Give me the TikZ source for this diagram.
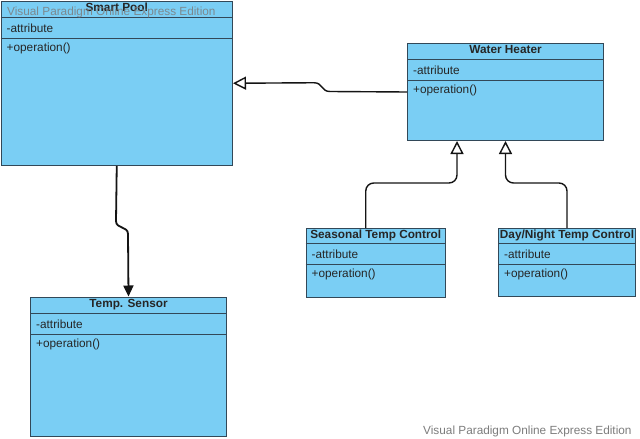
\documentclass[tikz,border=0pt]{standalone}
\usepackage{fontspec}
\setmainfont{Liberation Sans}
\usetikzlibrary{arrows.meta,calc}
\definecolor{classfill}{RGB}{122,206,244}
\definecolor{classline}{RGB}{50,72,88}
\definecolor{wmgray}{RGB}{125,125,125}
\definecolor{conn}{RGB}{20,20,20}
\tikzset{
  classbox/.style={draw=classline, fill=classfill, line width=1pt, rectangle, anchor=north west, inner sep=0pt},
  compsep/.style={draw=classline, line width=1pt},
  titletext/.style={font=\fontsize{11.8}{14}\selectfont\bfseries, text=black!85, inner sep=0pt, anchor=base},
  membertext/.style={font=\fontsize{11.8}{14}\selectfont, text=black!85, inner sep=0pt, anchor=base west},
  wmtext/.style={font=\fontsize{11.8}{14}\selectfont, text=wmgray, inner sep=0pt, anchor=base west},
  genline/.style={draw=conn, line width=1.4pt, -{Triangle[open, length=13pt, width=13pt]}},
  assocline/.style={draw=conn, line width=1.8pt, -{Triangle[length=11pt, width=10pt]}},
}
\newcommand\umlclass[8]{%
  \node[classbox, minimum width=#4pt, minimum height=#5pt] (#1) at (#2,#3) {};
  \draw[compsep] ($(#1.north west)+(0,#7)$) -- ($(#1.north east)+(0,#7)$);
  \draw[compsep] ($(#1.north west)+(0,#8)$) -- ($(#1.north east)+(0,#8)$);
  \node[titletext] (#1-t) at ($(#1.north)+(0,{#7/2+2.5})$) {#6};
  \node[membertext] (#1-a) at ($(#1.north west)+(6,{(#7+#8)/2+4.7})$) {-attribute};
  \node[membertext] (#1-o) at ($(#1.north west)+(6,{#8+13})$) {+operation()};
}
\begin{document}
\begin{tikzpicture}[x=1pt,y=-1pt]
  \fill[white] (0,0) rectangle (640,439);
  \useasboundingbox (0,0) rectangle (640,439);

  \umlclass{sp}{0.5}{0.5}{231.5}{164.5}{Smart Pool}{17}{38}
  \umlclass{wh}{407}{43}{196}{97}{Water Heater}{16.5}{37.5}
  \umlclass{se}{305.5}{228}{139.5}{68.5}{Seasonal Temp Control}{15.5}{36.5}
  \umlclass{dn}{498}{228}{137}{68}{Day/Night Temp Control}{15.5}{36.5}
  \umlclass{ts}{30}{296.5}{196}{139.5}{Temp. Sensor}{17}{38}

  % Water Heater -> Smart Pool (generalization)
  \draw[genline] (wh.west) -- (330,91.5) .. controls (321,91.5) and (323,82.75) .. (314,82.75) -- (sp.east);

  % Seasonal -> Water Heater
  \draw[genline, rounded corners=8pt] ($(se.north)+(-10,0)$) |- ($(wh.south)+(-48.5,42)$) -- ($(wh.south)+(-48.5,0)$);
  % Day/Night -> Water Heater
  \draw[genline, rounded corners=8pt] (dn.north) |- ($(wh.south)+(0,42)$) -- (wh.south);

  % Smart Pool -> Temp. Sensor
  \draw[assocline] (sp.south) -- (116,221) .. controls (116,229) and (128,226) .. (128,234) -- (ts.north);

  % watermarks
  \node[wmtext, opacity=0.85] (wm1) at (7,15) {Visual Paradigm Online Express Edition};
  \node[wmtext] (wm2) at (423,434) {Visual Paradigm Online Express Edition};
\end{tikzpicture}
\end{document}
